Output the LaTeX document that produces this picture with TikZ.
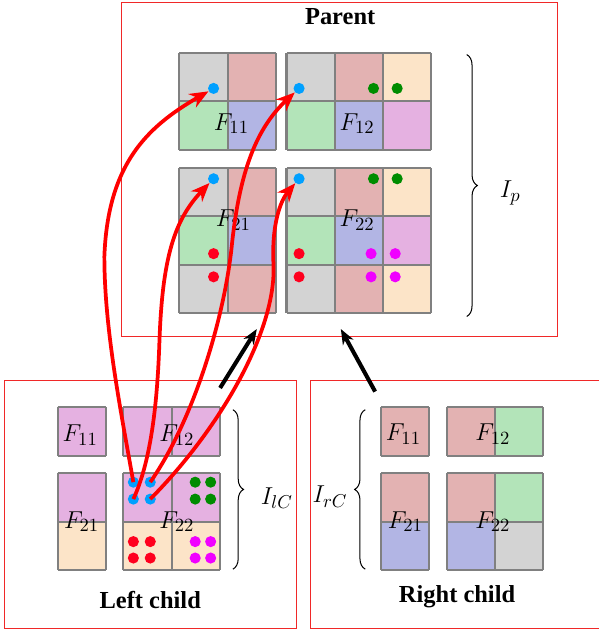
\documentclass[tikz,border=0pt]{standalone}
\usepackage[no-math]{fontspec}
\setmainfont{Liberation Serif}
\usetikzlibrary{arrows.meta,decorations.pathreplacing}

\definecolor{cgray}{RGB}{211,211,211}
\definecolor{cred}{RGB}{227,178,178}
\definecolor{cgreen}{RGB}{179,228,185}
\definecolor{cblue}{RGB}{178,181,228}
\definecolor{cbeige}{RGB}{252,228,200}
\definecolor{cpurple}{RGB}{229,177,225}
\definecolor{dblue}{RGB}{0,160,255}
\definecolor{dgreen}{RGB}{0,140,0}
\definecolor{dred}{RGB}{255,0,30}
\definecolor{dmagenta}{RGB}{240,0,255}
\definecolor{boxred}{RGB}{240,40,40}
\definecolor{gridgray}{RGB}{128,128,128}

\tikzset{
  pdot/.style={circle, inner sep=0pt, minimum size=0.23cm},
  flabel/.style={font=\fontsize{15.5}{18}\selectfont},
  boxtitle/.style={font=\Large\bfseries},
  redbox/.style={draw=boxred, line width=0.6pt},
  cellgrid/.style={step=1, draw=gridgray, line width=1.2pt},
  copyarrow/.style={red, line width=2.2pt, -{Stealth[length=11pt,width=9pt]}},
  mergearrow/.style={line width=2.4pt, -{Stealth[length=9pt,width=7pt]}},
  ibrace/.style={decorate, decoration={brace, amplitude=0.22cm}, line width=0.6pt},
}

\begin{document}
\begin{tikzpicture}
    \useasboundingbox (0,0) rectangle (12.40,13.06);
    % Parent
    \draw[redbox] (2.52,6.09) rectangle (11.54,13.0);
    \node[boxtitle] (ptitle) at (7.04,12.71) {Parent};
    \begin{scope}[shift={(3.71,9.96)}]
      \fill[cgray] (0,1) rectangle (1,2);
      \fill[cred] (1,1) rectangle (2,2);
      \fill[cgreen] (0,0) rectangle (1,1);
      \fill[cblue] (1,0) rectangle (2,1);
      \draw[cellgrid] (0,0) grid (2,2);
    \end{scope}
    \begin{scope}[shift={(5.93,9.96)}]
      \fill[cgray] (0,1) rectangle (1,2);
      \fill[cred] (1,1) rectangle (2,2);
      \fill[cbeige] (2,1) rectangle (3,2);
      \fill[cgreen] (0,0) rectangle (1,1);
      \fill[cblue] (1,0) rectangle (2,1);
      \fill[cpurple] (2,0) rectangle (3,1);
      \draw[cellgrid] (0,0) grid (3,2);
    \end{scope}
    \begin{scope}[shift={(3.71,6.58)}]
      \fill[cgray] (0,2) rectangle (1,3);
      \fill[cred] (1,2) rectangle (2,3);
      \fill[cgreen] (0,1) rectangle (1,2);
      \fill[cblue] (1,1) rectangle (2,2);
      \fill[cgray] (0,0) rectangle (1,1);
      \fill[cred] (1,0) rectangle (2,1);
      \draw[cellgrid] (0,0) grid (2,3);
    \end{scope}
    \begin{scope}[shift={(5.93,6.58)}]
      \fill[cgray] (0,2) rectangle (1,3);
      \fill[cred] (1,2) rectangle (2,3);
      \fill[cbeige] (2,2) rectangle (3,3);
      \fill[cgreen] (0,1) rectangle (1,2);
      \fill[cblue] (1,1) rectangle (2,2);
      \fill[cpurple] (2,1) rectangle (3,2);
      \fill[cgray] (0,0) rectangle (1,1);
      \fill[cred] (1,0) rectangle (2,1);
      \fill[cbeige] (2,0) rectangle (3,1);
      \draw[cellgrid] (0,0) grid (3,3);
    \end{scope}
    \node[flabel] (pf11) at (4.79,10.50) {$F_{11}$};
    \node[flabel] (pf12) at (7.39,10.50) {$F_{12}$};
    \node[flabel] (pf21) at (4.83,8.51) {$F_{21}$};
    \node[flabel] (pf22) at (7.39,8.51) {$F_{22}$};
    \node[pdot, fill=dblue] (pb11) at (4.42,11.23) {};
    \node[pdot, fill=dblue] (pb12) at (6.19,11.23) {};
    \node[pdot, fill=dgreen] (pg12a) at (7.73,11.23) {};
    \node[pdot, fill=dgreen] (pg12b) at (8.22,11.23) {};
    \node[pdot, fill=dblue] (pb21) at (4.42,9.36) {};
    \node[pdot, fill=dred] (pr21a) at (4.42,7.81) {};
    \node[pdot, fill=dred] (pr21b) at (4.42,7.33) {};
    \node[pdot, fill=dblue] (pb22) at (6.19,9.36) {};
    \node[pdot, fill=dgreen] (pg22a) at (7.73,9.36) {};
    \node[pdot, fill=dgreen] (pg22b) at (8.22,9.36) {};
    \node[pdot, fill=dred] (pr22a) at (6.19,7.81) {};
    \node[pdot, fill=dred] (pr22b) at (6.19,7.33) {};
    \node[pdot, fill=dmagenta] (pm22a) at (7.68,7.81) {};
    \node[pdot, fill=dmagenta] (pm22b) at (8.18,7.81) {};
    \node[pdot, fill=dmagenta] (pm22c) at (7.68,7.33) {};
    \node[pdot, fill=dmagenta] (pm22d) at (8.18,7.33) {};
    \draw[ibrace] (9.66,11.93) -- (9.66,6.51);
    \node[flabel] (ip) at (10.56,9.06) {$I_p$};

    % Left child
    \draw[redbox] (0.10,0.06) rectangle (6.14,5.18);
    \node[boxtitle] (ltitle) at (3.11,0.64) {Left child};
    \begin{scope}[shift={(1.195,3.63)}]
      \fill[cpurple] (0,0) rectangle (1,1);
      \draw[cellgrid] (0,0) grid (1,1);
    \end{scope}
    \begin{scope}[shift={(2.553,3.63)}]
      \fill[cpurple] (0,0) rectangle (2,1);
      \draw[cellgrid] (0,0) grid (2,1);
    \end{scope}
    \begin{scope}[shift={(1.195,1.263)}]
      \fill[cpurple] (0,1) rectangle (1,2);
      \fill[cbeige] (0,0) rectangle (1,1);
      \draw[cellgrid] (0,0) grid (1,2);
    \end{scope}
    \begin{scope}[shift={(2.553,1.263)}]
      \fill[cpurple] (0,1) rectangle (2,2);
      \fill[cbeige] (0,0) rectangle (2,1);
      \draw[cellgrid] (0,0) grid (2,2);
    \end{scope}
    \node[flabel] (lf11) at (1.66,4.06) {$F_{11}$};
    \node[flabel] (lf12) at (3.66,4.06) {$F_{12}$};
    \node[flabel] (lf21) at (1.69,2.26) {$F_{21}$};
    \node[flabel] (lf22) at (3.66,2.26) {$F_{22}$};
    \node[pdot, fill=dblue] (lb1) at (2.76,3.08) {};
    \node[pdot, fill=dblue] (lb2) at (3.11,3.08) {};
    \node[pdot, fill=dblue] (lb3) at (2.76,2.73) {};
    \node[pdot, fill=dblue] (lb4) at (3.11,2.73) {};
    \node[pdot, fill=dgreen] (lg1) at (4.04,3.08) {};
    \node[pdot, fill=dgreen] (lg2) at (4.36,3.08) {};
    \node[pdot, fill=dgreen] (lg3) at (4.04,2.73) {};
    \node[pdot, fill=dgreen] (lg4) at (4.36,2.73) {};
    \node[pdot, fill=dred] (lr1) at (2.76,1.85) {};
    \node[pdot, fill=dred] (lr2) at (3.11,1.85) {};
    \node[pdot, fill=dred] (lr3) at (2.76,1.51) {};
    \node[pdot, fill=dred] (lr4) at (3.11,1.51) {};
    \node[pdot, fill=dmagenta] (lm1) at (4.04,1.85) {};
    \node[pdot, fill=dmagenta] (lm2) at (4.36,1.85) {};
    \node[pdot, fill=dmagenta] (lm3) at (4.04,1.51) {};
    \node[pdot, fill=dmagenta] (lm4) at (4.36,1.51) {};
    \draw[ibrace] (4.82,4.58) -- (4.82,1.28);
    \node[flabel] (ilc) at (5.73,2.75) {$I_{lC}$};

    % Right child
    \draw[redbox] (12.40,5.18) -- (6.42,5.18) -- (6.42,0.06) -- (12.40,0.06);
    \node[boxtitle] (rtitle) at (9.46,0.71) {Right child};
    \begin{scope}[shift={(7.888,3.63)}]
      \fill[cred] (0,0) rectangle (1,1);
      \draw[cellgrid] (0,0) grid (1,1);
    \end{scope}
    \begin{scope}[shift={(9.248,3.63)}]
      \fill[cred] (0,0) rectangle (1,1);
      \fill[cgreen] (1,0) rectangle (2,1);
      \draw[cellgrid] (0,0) grid (2,1);
    \end{scope}
    \begin{scope}[shift={(7.888,1.263)}]
      \fill[cred] (0,1) rectangle (1,2);
      \fill[cblue] (0,0) rectangle (1,1);
      \draw[cellgrid] (0,0) grid (1,2);
    \end{scope}
    \begin{scope}[shift={(9.248,1.263)}]
      \fill[cred] (0,1) rectangle (1,2);
      \fill[cgreen] (1,1) rectangle (2,2);
      \fill[cblue] (0,0) rectangle (1,1);
      \fill[cgray] (1,0) rectangle (2,1);
      \draw[cellgrid] (0,0) grid (2,2);
    \end{scope}
    \node[flabel] (rf11) at (8.35,4.07) {$F_{11}$};
    \node[flabel] (rf12) at (10.20,4.07) {$F_{12}$};
    \node[flabel] (rf21) at (8.39,2.26) {$F_{21}$};
    \node[flabel] (rf22) at (10.20,2.26) {$F_{22}$};
    \draw[ibrace] (7.56,1.28) -- (7.56,4.58);
    \node[flabel] (irc) at (6.83,2.78) {$I_{rC}$};

    % children to parent
    \coordinate (lcout) at (4.555,5.03);
    \coordinate (pinl) at (5.315,6.25);
    \coordinate (rcout) at (7.764,4.955);
    \coordinate (pinr) at (7.054,6.25);
    \draw[mergearrow] (lcout) -- (pinl);
    \draw[mergearrow] (rcout) -- (pinr);

    % copied entries
    \draw[copyarrow] (lb1.center) .. controls (2.50,4.56) and (2.16,6.25) .. (2.16,7.75)
      .. controls (2.23,9.65) and (3.03,10.43) .. (pb11);
    \draw[copyarrow] (lb3.center) .. controls (3.14,3.55) and (3.26,4.80) .. (3.30,6.0)
      .. controls (3.36,7.7) and (3.60,8.50) .. (pb21);
    \draw[copyarrow] (lb2.center) .. controls (4.02,4.39) and (4.65,6.51) .. (4.80,8.0)
      .. controls (4.96,9.5) and (5.30,10.4) .. (pb12);
    \draw[copyarrow] (lb4.center) .. controls (4.52,4.15) and (5.73,6.20) .. (5.66,7.6)
      .. controls (5.62,8.4) and (5.80,8.90) .. (pb22);
\end{tikzpicture}
\end{document}
